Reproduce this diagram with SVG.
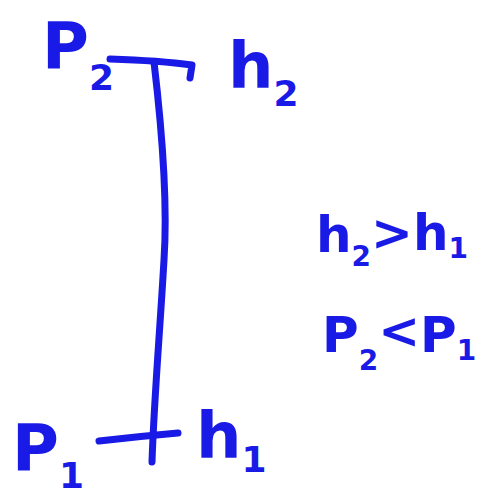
<svg xmlns="http://www.w3.org/2000/svg" width="500" height="498" viewBox="0 0 500 498">
<style>
.ink{fill:none;stroke:#1a1ae6;stroke-width:7;stroke-linecap:round;stroke-linejoin:round}
.t{font-family:"DejaVu Sans",sans-serif;fill:#1a1ae6;font-weight:bold}
.big{font-size:64px}
.mid{font-size:50px}
.s{font-size:36px}
.ms{font-size:28px}
</style>
<rect width="500" height="498" fill="#ffffff"/>
<g id="connectors">
<path class="ink" d="M110,59 C140,60 170,62 192,65 L190,78"/>
<path class="ink" d="M154,62 C162,130 168,200 164,260 C160,330 154,400 152,462"/>
<path class="ink" d="M99,441 C125,438 155,435 178,433"/>
</g>
<g id="p2"><text class="t big" x="42" y="68">P<tspan class="s" dy="22">2</tspan></text></g>
<g id="h2"><text class="t big" x="228" y="88">h<tspan class="s" dy="18">2</tspan></text></g>
<g id="rel1"><text class="t mid" x="316" y="252">h<tspan class="ms" dy="14">2</tspan><tspan dy="-16">&gt;</tspan><tspan dy="0">h</tspan><tspan class="ms" dy="8">1</tspan></text></g>
<g id="rel2"><text class="t mid" x="322" y="352">P<tspan class="ms" dy="18">2</tspan><tspan dy="-22">&lt;</tspan><tspan dy="4">P</tspan><tspan class="ms" dy="8">1</tspan></text></g>
<g id="p1"><text class="t big" x="12" y="470">P<tspan class="s" dy="18">1</tspan></text></g>
<g id="h1"><text class="t big" x="196" y="458">h<tspan class="s" dy="14">1</tspan></text></g>
</svg>
